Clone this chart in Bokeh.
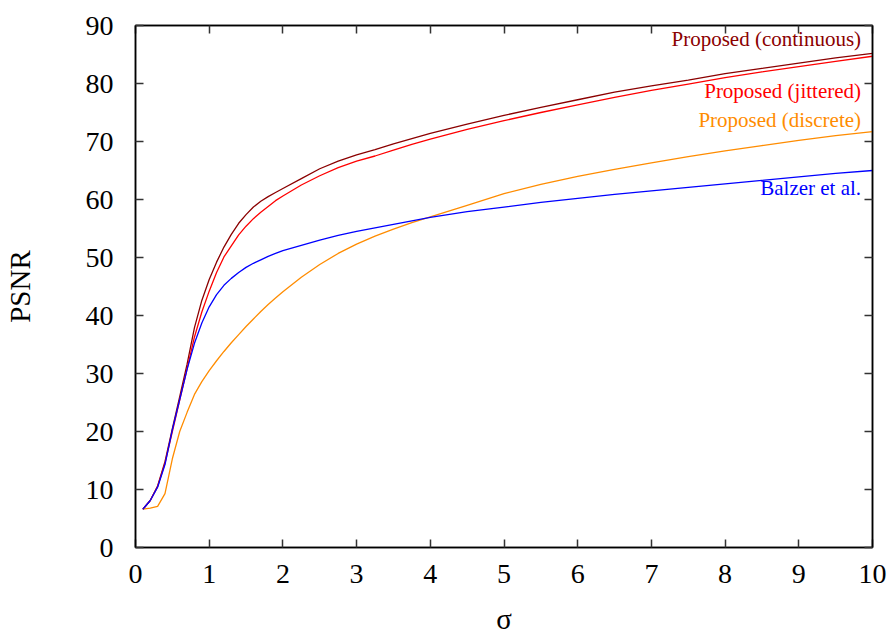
from bokeh.plotting import figure
from bokeh.models import Range1d, LinearAxis, FixedTicker, Label
from bokeh.embed import file_html
from bokeh.resources import INLINE

sigma = [0.1, 0.2, 0.3, 0.4, 0.5, 0.6, 0.7, 0.8, 0.9, 1.0,
         1.1, 1.2, 1.3, 1.4, 1.5, 1.6, 1.7, 1.8, 1.9, 2.0,
         2.25, 2.5, 2.75, 3.0, 3.25, 3.5, 3.75, 4.0,
         4.5, 5.0, 5.5, 6.0, 6.5, 7.0, 7.5, 8.0, 8.5, 9.0, 9.5, 10.0]

continuous = [6.6, 8.1, 10.6, 14.8, 20.5, 26.0, 31.6, 37.9, 42.6, 46.2,
              49.2, 51.8, 54.0, 55.9, 57.4, 58.7, 59.7, 60.5, 61.2, 61.9,
              63.6, 65.3, 66.6, 67.7, 68.6, 69.6, 70.5, 71.4,
              73.0, 74.5, 75.9, 77.2, 78.5, 79.6, 80.6, 81.7, 82.6, 83.5, 84.4, 85.2]
jittered = [6.6, 8.1, 10.5, 14.5, 20.0, 25.4, 30.8, 36.3, 40.6, 44.2,
            47.4, 50.1, 52.0, 53.9, 55.4, 56.7, 57.8, 58.8, 59.8, 60.6,
            62.5, 64.1, 65.5, 66.6, 67.5, 68.5, 69.5, 70.4,
            72.1, 73.6, 75.0, 76.3, 77.6, 78.8, 79.9, 81.0, 82.0, 82.9, 83.8, 84.7]
discrete = [6.6, 6.8, 7.1, 9.3, 15.3, 20.0, 23.3, 26.4, 28.6, 30.5,
            32.2, 33.8, 35.3, 36.7, 38.1, 39.4, 40.7, 41.9, 43.0, 44.1,
            46.6, 48.8, 50.7, 52.3, 53.7, 54.9, 56.0, 57.0,
            59.0, 61.0, 62.6, 64.0, 65.2, 66.3, 67.4, 68.4, 69.3, 70.2, 71.0, 71.7]
balzer = [6.6, 8.1, 10.4, 14.3, 20.3, 25.5, 30.7, 35.2, 38.7, 41.5,
          43.6, 45.2, 46.4, 47.4, 48.3, 49.0, 49.6, 50.2, 50.7, 51.2,
          52.1, 53.0, 53.8, 54.5, 55.1, 55.7, 56.3, 56.9,
          57.9, 58.7, 59.5, 60.2, 60.9, 61.5, 62.1, 62.7, 63.3, 63.9, 64.5, 65.0]

series_names = ["Proposed (continuous)", "Proposed (jittered)", "Proposed (discrete)", "Balzer et al."]
series_values = [continuous, jittered, discrete, balzer]
series_colors = ["#8b0000", "#ff0000", "#ff8c00", "#0000ff"]
label_y = [87.75, 78.75, 73.75, 61.95]
label_x = 9.845

x_ticks = list(range(0, 11))
y_ticks = list(range(0, 91, 10))

FONT = "Liberation Serif"

p = figure(width=887, height=637, x_range=Range1d(0, 10), y_range=Range1d(0, 90),
           output_backend="svg", toolbar_location=None,
           min_border_left=133, min_border_right=15, min_border_top=25, min_border_bottom=90)
p.grid.visible = False
p.outline_line_color = "black"
p.outline_line_width = 1.5
p.background_fill_color = "white"
p.border_fill_color = "white"

for ax in (p.xaxis[0], p.yaxis[0]):
    ax.major_tick_in = 8
    ax.major_tick_out = 0
    ax.minor_tick_line_color = None
    ax.axis_line_width = 1.5
    ax.axis_line_color = "black"
    ax.major_tick_line_color = "#333333"
    ax.major_tick_line_width = 1.5
    ax.major_label_text_font = FONT
    ax.major_label_text_font_size = "28px"
    ax.major_label_text_color = "black"
    ax.axis_label_text_font = FONT
    ax.axis_label_text_font_size = "29px"
    ax.axis_label_text_font_style = "normal"
    ax.axis_label_text_color = "black"

p.xaxis.ticker = FixedTicker(ticks=x_ticks)
p.yaxis.ticker = FixedTicker(ticks=y_ticks)
p.xaxis.axis_label = "σ"
p.yaxis.axis_label = "PSNR"
p.xaxis.major_label_standoff = 17
p.yaxis.major_label_standoff = 22
p.xaxis.axis_label_standoff = 17
p.yaxis.axis_label_standoff = 47

for loc, ticks in (("right", y_ticks), ("above", x_ticks)):
    ax = LinearAxis(ticker=FixedTicker(ticks=ticks))
    ax.major_tick_in = 8
    ax.major_tick_out = 0
    ax.minor_tick_line_color = None
    ax.axis_line_width = 1.5
    ax.major_tick_line_color = "#333333"
    ax.major_tick_line_width = 1.5
    ax.major_label_text_font_size = "0px"
    ax.major_label_standoff = 0
    p.add_layout(ax, loc)

for name, vals, col, ly in zip(series_names, series_values, series_colors, label_y):
    p.line(sigma, vals, line_color=col, line_width=1.3)
    p.add_layout(Label(x=label_x, y=ly, text=name, text_align="right", text_baseline="middle",
                       text_font=FONT, text_font_size="21px", text_color=col))

open("out.html", "w").write(file_html(p, INLINE))
